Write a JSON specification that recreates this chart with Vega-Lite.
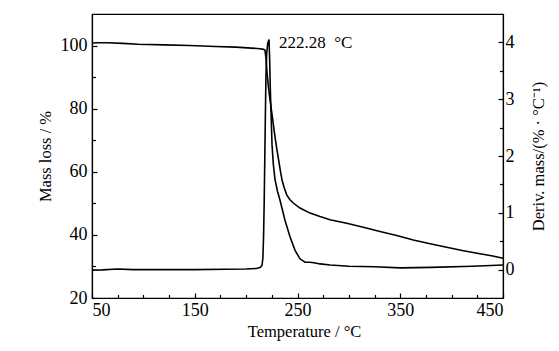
{
  "$schema": "https://vega.github.io/schema/vega-lite/v6.json",
  "width": 411,
  "height": 284,
  "autosize": "none",
  "padding": {"left": 92, "top": 14, "right": 56, "bottom": 53},
  "background": "white",
  "config": {
    "view": {"stroke": "#000", "strokeWidth": 1.2},
    "font": "Liberation Serif",
    "axis": {
      "labelFont": "Liberation Serif",
      "titleFont": "Liberation Serif",
      "labelFontSize": 18,
      "titleFontSize": 16.5,
      "labelColor": "#000",
      "titleColor": "#000",
      "titleFontWeight": "normal",
      "domainColor": "#000",
      "domainWidth": 1.2,
      "tickColor": "#000",
      "tickWidth": 1.2,
      "grid": false,
      "labelOverlap": false
    }
  },
  "datasets": {
    "mass": [
      {"T": 50, "v": 100.8}, {"T": 55, "v": 100.9}, {"T": 65, "v": 100.9}, {"T": 80, "v": 100.7},
      {"T": 95, "v": 100.4}, {"T": 120, "v": 100.2}, {"T": 145, "v": 100.0}, {"T": 170, "v": 99.7},
      {"T": 190, "v": 99.5}, {"T": 205, "v": 99.2}, {"T": 213.5, "v": 99.0}, {"T": 217, "v": 98.8},
      {"T": 218.4, "v": 98.5}, {"T": 219.3, "v": 96}, {"T": 220.3, "v": 91.5}, {"T": 221.5, "v": 87.5},
      {"T": 222.8, "v": 84}, {"T": 223.9, "v": 81.3}, {"T": 225.5, "v": 77.5}, {"T": 227.5, "v": 72.5},
      {"T": 229.5, "v": 68}, {"T": 231.5, "v": 64}, {"T": 233.5, "v": 60}, {"T": 235, "v": 57.3},
      {"T": 237, "v": 55}, {"T": 239.5, "v": 52.7}, {"T": 242.5, "v": 51.2}, {"T": 245.9, "v": 50.1},
      {"T": 252.4, "v": 48.5}, {"T": 262.2, "v": 46.9}, {"T": 271.9, "v": 45.8}, {"T": 281.6, "v": 44.8},
      {"T": 297.9, "v": 43.7}, {"T": 314, "v": 42.4}, {"T": 330.3, "v": 41.1}, {"T": 346.5, "v": 39.8},
      {"T": 362.7, "v": 38.4}, {"T": 379, "v": 37.2}, {"T": 395.2, "v": 36.1}, {"T": 411.5, "v": 35.0},
      {"T": 427.6, "v": 34.0}, {"T": 440, "v": 33.3}, {"T": 450, "v": 32.6}
    ],
    "dtg": [
      {"T": 50, "d": -0.01}, {"T": 60, "d": -0.005}, {"T": 75, "d": 0.01}, {"T": 90, "d": 0.0},
      {"T": 120, "d": 0.0}, {"T": 150, "d": 0.0}, {"T": 180, "d": 0.005}, {"T": 200, "d": 0.01},
      {"T": 210, "d": 0.02}, {"T": 214, "d": 0.04}, {"T": 215.5, "d": 0.08}, {"T": 216.3, "d": 0.2},
      {"T": 217, "d": 0.6}, {"T": 217.6, "d": 1.2}, {"T": 218.2, "d": 2.0}, {"T": 218.8, "d": 2.8},
      {"T": 219.3, "d": 3.4}, {"T": 220, "d": 3.8}, {"T": 221, "d": 3.98}, {"T": 222.28, "d": 4.05},
      {"T": 222.9, "d": 3.7}, {"T": 223.5, "d": 3.2}, {"T": 225.2, "d": 2.2}, {"T": 226.5, "d": 1.85},
      {"T": 228.1, "d": 1.59}, {"T": 230.5, "d": 1.38}, {"T": 233, "d": 1.22}, {"T": 237.8, "d": 0.87},
      {"T": 242.7, "d": 0.58}, {"T": 247.6, "d": 0.34}, {"T": 252.4, "d": 0.19}, {"T": 257.3, "d": 0.13},
      {"T": 262, "d": 0.13}, {"T": 266, "d": 0.12}, {"T": 272, "d": 0.1}, {"T": 282, "d": 0.08},
      {"T": 300, "d": 0.06}, {"T": 325, "d": 0.05}, {"T": 350, "d": 0.03}, {"T": 380, "d": 0.04},
      {"T": 420, "d": 0.06}, {"T": 450, "d": 0.08}
    ],
    "peak": [{"T": 222.28, "d": 4.05, "label": "222.28\u00a0\u00a0°C"}]
  },
  "encoding": {
    "x": {
      "field": "T", "type": "quantitative",
      "scale": {"domain": [50, 450], "nice": false, "zero": false},
      "axis": {
        "title": "Temperature / °C",
        "values": [50, 75, 100, 125, 150, 175, 200, 225, 250, 275, 300, 325, 350, 375, 400, 425, 450],
        "labelExpr": "(datum.value - 50) % 100 == 0 ? datum.label : ''",
        "tickSize": {"condition": {"test": "(datum.value - 50) % 100 == 0", "value": -5}, "value": -3.5},
        "labelPadding": 8,
        "titlePadding": 3,
        "titleX": 212
      }
    }
  },
  "layer": [
    {
      "data": {"name": "mass"},
      "mark": {"type": "line", "color": "#000", "strokeWidth": 1.6},
      "encoding": {
        "y": {
          "field": "v", "type": "quantitative",
          "scale": {"domain": [20, 110], "nice": false, "zero": false},
          "axis": {
            "orient": "left",
            "title": "Mass loss / %",
            "values": [20, 30, 40, 50, 60, 70, 80, 90, 100],
            "labelExpr": "datum.value % 20 == 0 ? datum.label : ''",
            "tickSize": {"condition": {"test": "datum.value % 20 == 0", "value": -5}, "value": -3.5},
            "labelPadding": 10,
            "titlePadding": 7
          }
        }
      }
    },
    {
      "layer": [
        {
          "data": {"name": "dtg"},
          "mark": {"type": "line", "color": "#000", "strokeWidth": 1.6}
        },
        {
          "data": {"name": "peak"},
          "mark": {"type": "text", "align": "left", "baseline": "middle", "dx": 10, "dy": 3, "fontSize": 17, "font": "Liberation Serif", "color": "#000"},
          "encoding": {"text": {"field": "label"}}
        }
      ],
      "encoding": {
        "y": {
          "field": "d", "type": "quantitative",
          "scale": {"domain": [-0.5, 4.5], "nice": false, "zero": false},
          "axis": {
            "orient": "right",
            "title": "Deriv. mass/(% · °C⁻¹)",
            "titleAngle": -90,
            "titleBaseline": "top",
            "values": [0, 0.5, 1, 1.5, 2, 2.5, 3, 3.5, 4],
            "labelExpr": "datum.value % 1 == 0 ? format(datum.value, 'd') : ''",
            "tickSize": {"condition": {"test": "datum.value % 1 == 0", "value": -5}, "value": -3.5},
            "labelPadding": 7,
            "titlePadding": 16
          }
        }
      }
    }
  ],
  "resolve": {"scale": {"y": "independent"}}
}
